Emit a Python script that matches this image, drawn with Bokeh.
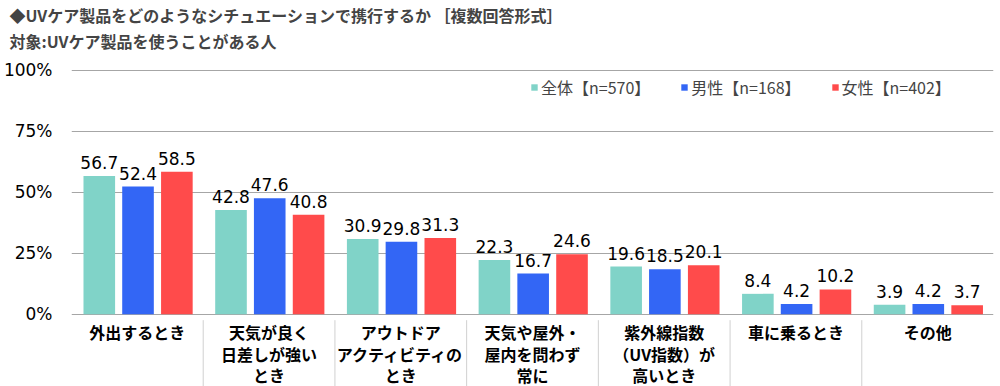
from bokeh.plotting import figure
from bokeh.models import (FactorRange, Range1d, ColumnDataSource, FixedTicker,
                          PrintfTickFormatter, Legend, LegendItem, Title)
from bokeh.transform import dodge
from bokeh.core.properties import value
from bokeh.embed import file_html
from bokeh.resources import INLINE

title_lines = ["◆UVケア製品をどのようなシチュエーションで携行するか ［複数回答形式］",
               "対象:UVケア製品を使うことがある人"]
categories = ["外出するとき", "天気が良く日差しが強いとき", "アウトドアアクティビティのとき",
              "天気や屋外・屋内を問わず常に", "紫外線指数（UV指数）が高いとき",
              "車に乗るとき", "その他"]
x_labels = ["外出するとき", "天気が良く\n日差しが強い\nとき", "アウトドア\nアクティビティの\nとき",
            "天気や屋外・\n屋内を問わず\n常に", "紫外線指数\n（UV指数）が\n高いとき",
            "車に乗るとき", "その他"]
series_names = ["全体【n=570】", "男性【n=168】", "女性【n=402】"]
all_vals = [56.7, 42.8, 30.9, 22.3, 19.6, 8.4, 3.9]
male_vals = [52.4, 47.6, 29.8, 16.7, 18.5, 4.2, 4.2]
female_vals = [58.5, 40.8, 31.3, 24.6, 20.1, 10.2, 3.7]
y_ticks = [0, 25, 50, 75, 100]

colors = ["#80D3C8", "#3366F5", "#FF4B4B"]
offsets = [-0.289, 0.005, 0.3]
JP = "Noto Sans CJK JP"
NUM = "DejaVu Sans"

p = figure(x_range=FactorRange(*categories, range_padding=0, factor_padding=0),
           y_range=Range1d(-29.6, 100.4), width=1000, height=386,
           output_backend="svg", toolbar_location=None, title=None,
           x_axis_location=None,
           min_border_left=65, min_border_right=7, min_border_top=61,
           min_border_bottom=0)
p.outline_line_color = None
p.xgrid.grid_line_color = None
p.ygrid.ticker = FixedTicker(ticks=y_ticks)
p.ygrid.grid_line_color = "#a6a6a6"
p.ygrid.grid_line_width = 1
ax = p.yaxis[0]
ax.ticker = FixedTicker(ticks=y_ticks)
ax.formatter = PrintfTickFormatter(format="%d%%")
ax.axis_line_color = None
ax.major_tick_line_color = None
ax.minor_tick_line_color = None
ax.major_label_standoff = 13
ax.major_label_text_font = NUM
ax.major_label_text_font_size = "17px"
ax.major_label_text_color = "#000000"

# spacer title (closest to the plot) pushes the two title lines upward
spacer = Title(text=" ", align="left", text_font=JP, text_font_size="10px", standoff=0)
t2 = Title(text=title_lines[1], align="left", offset=-62,
           text_font=JP, text_font_size="16px", text_font_style="bold", standoff=0)
t1 = Title(text=title_lines[0], align="left", offset=-62,
           text_font=JP, text_font_size="16px", text_font_style="bold", standoff=0)
p.add_layout(spacer, "above")
p.add_layout(t2, "above")
p.add_layout(t1, "above")

src = ColumnDataSource(dict(cat=categories, xl=x_labels, a=all_vals, m=male_vals, f=female_vals,
                            al=["%.1f" % v for v in all_vals],
                            ml=["%.1f" % v for v in male_vals],
                            fl=["%.1f" % v for v in female_vals]))

renderers = []
for col, lab, off, c in zip(["a", "m", "f"], ["al", "ml", "fl"], offsets, colors):
    r = p.vbar(x=dodge("cat", off, range=p.x_range), top=col, width=0.24, bottom=0,
               source=src, fill_color=c, line_color=None)
    renderers.append(r)
    p.text(x=dodge("cat", off, range=p.x_range), y=col, text=lab, source=src,
           text_align="center", text_baseline="bottom", y_offset=-7,
           text_font=value(NUM), text_font_size="17px", text_color="#000000")

# category labels and separators
p.text(x="cat", y=-2.4, text="xl", source=src, text_align="center", text_baseline="top",
       text_font=value(JP), text_font_size="16px", text_font_style="bold",
       text_line_height=0.9, text_color="#000000")
sep_src = ColumnDataSource(dict(cat=categories[:-1]))
p.segment(x0=dodge("cat", 0.5, range=p.x_range), x1=dodge("cat", 0.5, range=p.x_range),
          y0=-2.4, y1=-29.6, source=sep_src, line_color="#d0d0d0", line_width=1)

legend = Legend(items=[LegendItem(label=n, renderers=[r]) for n, r in zip(series_names, renderers)],
                orientation="horizontal", location=(459, 287), padding=0, spacing=30,
                glyph_width=8, glyph_height=8, label_standoff=3, label_height=16,
                label_text_font=JP, label_text_font_size="16px",
                border_line_color=None, background_fill_alpha=0)
p.add_layout(legend, "center")

open("out.html", "w").write(file_html(p, INLINE))
